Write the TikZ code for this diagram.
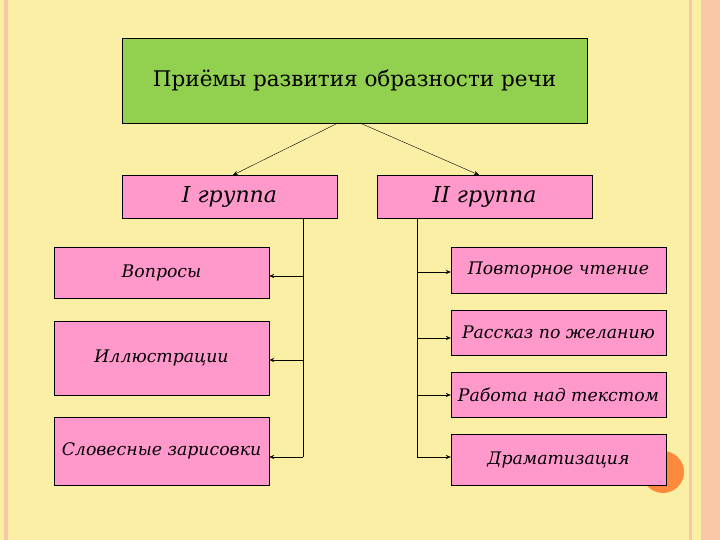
\documentclass[tikz,border=0pt]{standalone}
\usepackage{fontspec}
\setmainfont{DejaVu Serif}
\usetikzlibrary{arrows.meta}
\begin{document}
\begin{tikzpicture}[x=1pt,y=-1pt,
 box/.style={draw,fill=pink1,inner sep=0pt,font=\itshape\fontsize{17.3}{20}\selectfont},
 arr/.style={-{Stealth[length=5pt,width=4pt]},thin}]
\definecolor{bg}{HTML}{FBEFA5}
\definecolor{pink1}{HTML}{FF99CC}
\definecolor{green1}{HTML}{92D050}
\definecolor{stripe}{HTML}{F9C6A6}
\definecolor{dot}{HTML}{FF8A3D}
\useasboundingbox (0,0) rectangle (720,540);
\fill[bg] (0,0) rectangle (720,540);
\fill[stripe] (4,0) rectangle (8,540);
\fill[stripe] (689,0) rectangle (692,540);
\fill[stripe] (701,0) rectangle (720,540);
\fill[dot] (663,472) circle (21);
\node[draw,fill=green1,minimum width=465,minimum height=85,font=\fontsize{21.5}{24}\selectfont] (top) at (354.5,80.5) {Приёмы развития образности речи};
\node[box,minimum width=215,minimum height=43,font=\itshape\fontsize{22}{24}\selectfont] (g1) at (229.5,196.5) {I группа};
\node[box,minimum width=215,minimum height=43,font=\itshape\fontsize{22}{24}\selectfont] (g2) at (484.5,196.5) {II группа};
\node[box,minimum width=215,minimum height=51] (a1) at (161.5,272.5) {Вопросы};
\node[box,minimum width=215,minimum height=74] (a2) at (161.5,358) {Иллюстрации};
\node[box,minimum width=215,minimum height=68] (a3) at (161.5,451) {Словесные зарисовки};
\node[box,minimum width=215,minimum height=46] (b1) at (558.5,270) {Повторное чтение};
\node[box,minimum width=215,minimum height=45] (b2) at (558.5,332.5) {Рассказ по желанию};
\node[box,minimum width=215,minimum height=45] (b3) at (558.5,394.5) {Работа над текстом};
\node[box,minimum width=215,minimum height=51] (b4) at (558.5,459.5) {Драматизация};
\coordinate (t1) at (338,123); \coordinate (t2) at (360,123);
\draw[arr] (t1) -- (233,175);
\draw[arr] (t2) -- (479,175);
\coordinate (l0) at (303,218); \coordinate (r0) at (417,218);
\draw (l0) -- (303,457);
\draw (r0) -- (417,457);
\draw[arr] (303,276) -- (a1.east |- 0,276);
\draw[arr] (303,360) -- (a2.east |- 0,360);
\draw[arr] (303,457) -- (a3.east |- 0,457);
\draw[arr] (417,272) -- (b1.west |- 0,272);
\draw[arr] (417,338) -- (b2.west |- 0,338);
\draw[arr] (417,395) -- (b3.west |- 0,395);
\draw[arr] (417,457) -- (b4.west |- 0,457);
\end{tikzpicture}
\end{document}
